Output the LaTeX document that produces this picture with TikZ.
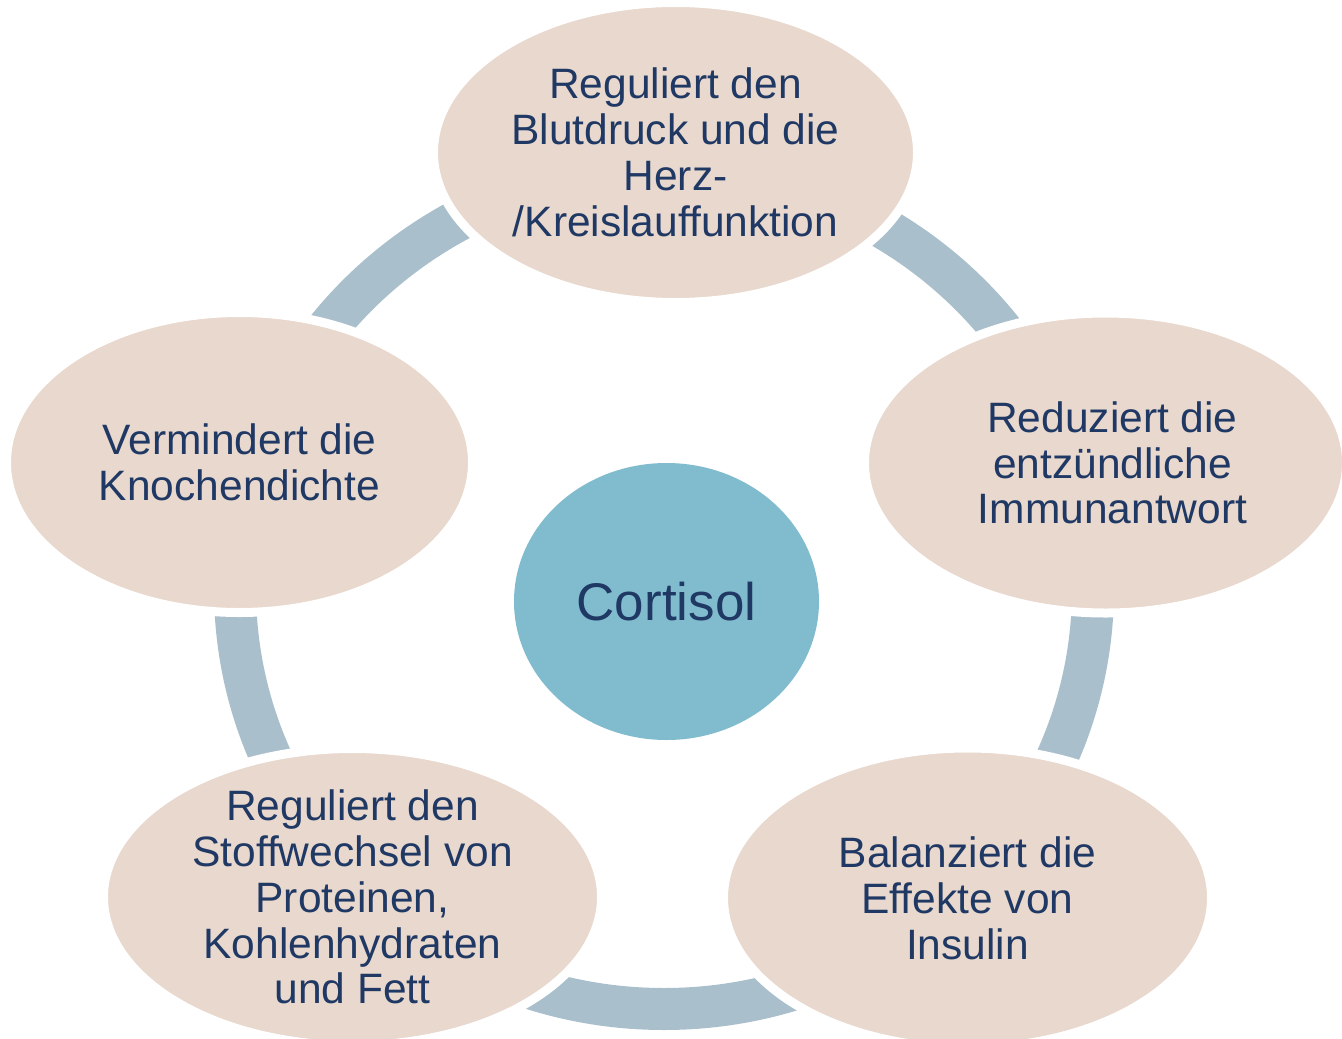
\documentclass[tikz,border=0pt]{standalone}
\usepackage{fontspec}
\setmainfont{Liberation Sans}
\usetikzlibrary{shapes.geometric}
\definecolor{bubblefill}{HTML}{E8D8CD}
\definecolor{corefill}{HTML}{80BCCE}
\definecolor{ringblue}{HTML}{A9BFCC}
\definecolor{textnavy}{HTML}{1F3864}
\begin{document}
\begin{tikzpicture}[x=1pt, y=-1pt,
        bubbletext/.style={align=center, text=textnavy, font=\fontsize{42.5pt}{45.8pt}\selectfont},
        bubble/.style={ellipse, fill=bubblefill, draw=white, line width=9pt, inner sep=-30pt,
            minimum width=484pt, minimum height=300pt, bubbletext},
        core/.style={ellipse, fill=corefill, minimum width=305pt, minimum height=277pt,
            text=textnavy, font=\fontsize{53pt}{60pt}\selectfont},
        ringline/.style={draw=ringblue, line width=42pt}]
    \useasboundingbox (0,0) rectangle (1342,1039);
    \coordinate (ring) at (664,589);
    \draw[ringline] (ring) ellipse [x radius=429pt, y radius=420pt];
    \node[core] (cortisol) at (666.5,601.5) {Cortisol};
    \node[bubble] (blutdruck) at (675.5,152.5) {Reguliert den\\Blutdruck und die\\Herz-\\/Kreislauffunktion};
    \node[bubble, minimum width=482pt] (immun) at (1105.5,463) {};
    \node[bubbletext] (immuntext) at ([xshift=7pt]immun.center) {Reduziert die\\entzündliche\\Immunantwort};
    \node[bubble, minimum width=488pt] (insulin) at (967.5,898) {Balanziert die\\Effekte von\\Insulin};
    \node[bubble, minimum width=498pt, minimum height=297pt] (stoffwechsel) at (352.5,897) {Reguliert den\\Stoffwechsel von\\Proteinen,\\Kohlenhydraten\\und Fett};
    \node[bubble, minimum width=466pt] (knochen) at (239.5,462.5) {Vermindert die\\Knochendichte};
\end{tikzpicture}
\end{document}
